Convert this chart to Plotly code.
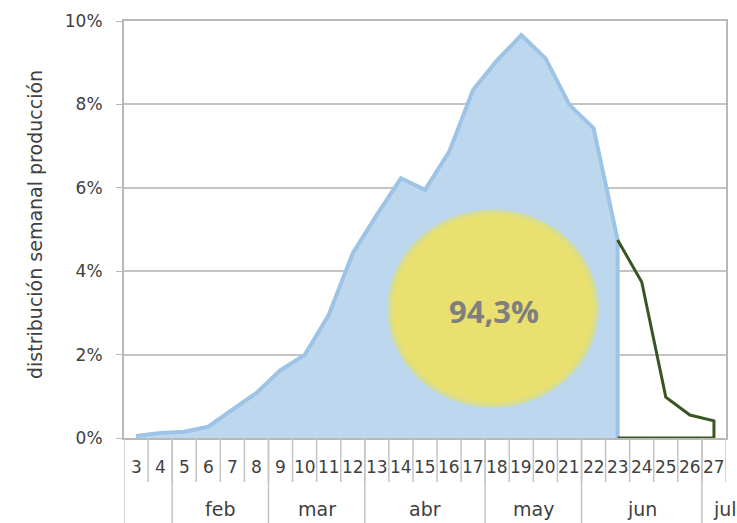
import plotly.graph_objects as go

# ---- data ----
weeks = [3, 4, 5, 6, 7, 8, 9, 10, 11, 12, 13, 14, 15, 16, 17, 18, 19, 20, 21, 22, 23, 24, 25, 26, 27]
blue_weeks = [3, 4, 5, 6, 7, 8, 9, 10, 11, 12, 13, 14, 15, 16, 17, 18, 19, 20, 21, 22, 23]
blue_vals = [0.0005, 0.0012, 0.0015, 0.0027, 0.0068, 0.0108, 0.0163, 0.0199, 0.0295, 0.0443,
             0.0535, 0.0623, 0.0595, 0.0686, 0.0835, 0.0906, 0.0966, 0.0911, 0.0799, 0.0743, 0.0475]
green_weeks = [23, 24, 25, 26, 27]
green_vals = [0.0475, 0.0374, 0.0098, 0.0055, 0.0041]
month_labels = ["", "feb", "mar", "abr", "may", "jun", "jul"]
month_first = [3, 5, 9, 13, 18, 22, 27]
month_last = [4, 8, 12, 17, 21, 26, 27]
share_label = "94,3%"
y_title = "distribución semanal producción"

FONT = "DejaVu Sans"
TXT = "#404040"
GRID = "#c4c4c4"

fig = go.Figure()

# blue area (closed down to zero at the last week)
fig.add_trace(go.Scatter(
    x=blue_weeks + [blue_weeks[-1]], y=blue_vals + [0],
    mode="lines", fill="tozeroy", fillcolor="#bdd7ee",
    line=dict(color="#9dc3e6", width=4), hoverinfo="skip", showlegend=False))

# green outline
fig.add_trace(go.Scatter(
    x=green_weeks + [green_weeks[-1], green_weeks[0]], y=green_vals + [0, 0],
    mode="lines", line=dict(color="#375623", width=3), hoverinfo="skip", showlegend=False))

shapes = []
annotations = []


def px_x(px):
    return (px - 124) / 602.0


def px_y(py):
    return (438 - py) / 417.0


# glow ellipse
for (dx, col) in [(3, "rgba(214,222,140,0.55)"), (1, "#dcdf88"), (-3, "#e9e070")]:
    shapes.append(dict(type="circle", xref="paper", yref="paper", layer="above",
                       x0=px_x(390 - dx), x1=px_x(596 + dx), y0=px_y(405 + dx), y1=px_y(212 - dx),
                       fillcolor=col, line=dict(width=0)))

annotations.append(dict(text="<b>" + share_label + "</b>", xref="paper", yref="paper",
                        x=px_x(494), y=px_y(311), showarrow=False,
                        font=dict(family="Open Sans", size=31, color="#7f7f7f"),
                        xanchor="center", yanchor="middle"))

# x axis: week labels and boundaries
for w in weeks:
    annotations.append(dict(text=str(w), x=w, y=px_y(467), xref="x", yref="paper", showarrow=False,
                            font=dict(family=FONT, size=17, color=TXT), xanchor="center", yanchor="middle"))
    shapes.append(dict(type="line", xref="x", yref="paper", x0=w + 0.5, x1=w + 0.5,
                       y0=0, y1=px_y(482), line=dict(color=GRID, width=1.5)))

# month groups
for lab, a, b in zip(month_labels, month_first, month_last):
    shapes.append(dict(type="line", xref="x", yref="paper", x0=a - 0.5, x1=a - 0.5,
                       y0=0, y1=px_y(523), line=dict(color=GRID, width=1.5)))
    if lab:
        cx = (a + b) / 2.0
        if lab == "jul":
            cx = b + 0.45
        annotations.append(dict(text=lab, x=cx, y=px_y(509), xref="x", yref="paper", showarrow=False,
                                font=dict(family=FONT, size=19, color=TXT), xanchor="center", yanchor="middle"))

annotations.append(dict(text=y_title, xref="paper", yref="paper", x=px_x(35), y=px_y(225),
                        textangle=-90, showarrow=False, font=dict(family=FONT, size=19, color=TXT),
                        xanchor="center", yanchor="middle"))

fig.update_layout(
    width=737, height=523,
    margin=dict(l=124, r=11, t=21, b=85, autoexpand=False),
    paper_bgcolor="white", plot_bgcolor="white",
    shapes=shapes, annotations=annotations,
    xaxis=dict(range=[2.5, 27.5], showticklabels=False, showgrid=False, zeroline=False,
               showline=True, mirror=True, linecolor="#b8b8b8", linewidth=2, ticks=""),
    yaxis=dict(range=[0, 0.10], dtick=0.02, tickformat=".0%", showgrid=True, gridcolor=GRID,
               gridwidth=1.5, zeroline=False, showline=True, mirror=True, linecolor="#b8b8b8",
               linewidth=2, ticks="outside", ticklen=6, tickcolor="#b8b8b8", automargin=False,
               tickfont=dict(family=FONT, size=17, color=TXT), ticklabelstandoff=10),
)

fig.write_html("out.html", config={"displayModeBar": False},
               post_script="document.body.style.margin='0px';")
